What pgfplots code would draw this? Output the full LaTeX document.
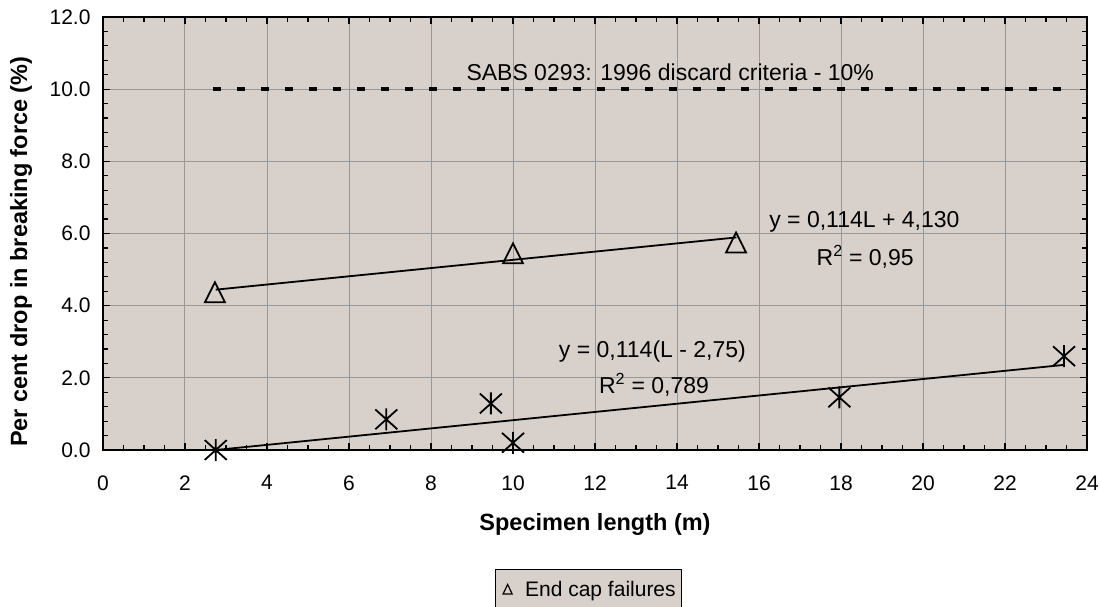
\documentclass[border=0pt]{standalone}
\usepackage{pgfplots}
\pgfplotsset{compat=1.18}
\usepackage{fontspec}
\setmainfont{Liberation Sans}

\definecolor{plotbg}{RGB}{216,208,202}
\definecolor{gridgray}{RGB}{152,152,152}

% open triangle centred on its bounding box
\pgfdeclareplotmark{boxtri}{%
  \pgfpathmoveto{\pgfqpoint{0pt}{\pgfplotmarksize}}%
  \pgfpathlineto{\pgfqpoint{-\pgfplotmarksize}{-\pgfplotmarksize}}%
  \pgfpathlineto{\pgfqpoint{\pgfplotmarksize}{-\pgfplotmarksize}}%
  \pgfpathclose\pgfusepathqstroke}
% star: a cross with a vertical bar through it
\pgfdeclareplotmark{xstar}{%
  \pgfpathmoveto{\pgfqpoint{-\pgfplotmarksize}{-0.9\pgfplotmarksize}}%
  \pgfpathlineto{\pgfqpoint{\pgfplotmarksize}{0.9\pgfplotmarksize}}%
  \pgfpathmoveto{\pgfqpoint{-\pgfplotmarksize}{0.9\pgfplotmarksize}}%
  \pgfpathlineto{\pgfqpoint{\pgfplotmarksize}{-0.9\pgfplotmarksize}}%
  \pgfpathmoveto{\pgfqpoint{0pt}{-\pgfplotmarksize}}%
  \pgfpathlineto{\pgfqpoint{0pt}{\pgfplotmarksize}}%
  \pgfusepathqstroke}

\newcommand{\ticksize}{\fontsize{21bp}{25bp}\selectfont}
\newcommand{\labelsize}{\fontsize{23.5bp}{28bp}\selectfont}
\newcommand{\notesize}{\fontsize{23bp}{27bp}\selectfont}

\begin{document}
\begin{tikzpicture}
\begin{axis}[
  at={(0,0)}, anchor=south west,
  scale only axis, width=984bp, height=433bp,
  xmin=0, xmax=24, ymin=0, ymax=12,
  xtick={0,2,...,24}, ytick={0,2,...,12},
  minor x tick num=3, minor y tick num=4,
  tick align=inside, major tick length=7bp, minor tick length=5bp,
  tick style={black, line width=1.2bp},
  grid=major, major grid style={gridgray, line width=1bp},
  axis line style={black, line width=2.5bp},
  axis background/.style={fill=plotbg},
  clip=false,
  /pgf/number format/assume math mode=true,
  ticklabel style={font=\ticksize},
  yticklabel style={/pgf/number format/fixed, /pgf/number format/fixed zerofill,
    /pgf/number format/precision=1, xshift=-9bp},
  xticklabel style={yshift=-22bp},
  xlabel={Specimen length (m)},
  ylabel={Per cent drop in breaking force (\%)},
  label style={font=\bfseries\labelsize},
  xlabel style={at={(axis description cs:0.5,-0.1848)}, anchor=base},
  ylabel style={at={(axis description cs:-0.0772,0.458)}, anchor=base},
  legend style={at={(0.398,-0.275)}, anchor=north west, fill=plotbg,
    draw=black, line width=1bp, font=\ticksize, inner xsep=4bp, inner ysep=10bp},
  legend cell align=left,
]
% discard limit
\addplot[black, line width=4bp, dash pattern=on 8bp off 16bp, forget plot]
  coordinates {(2.68,10) (23.4,10)};

% trend lines
\addplot[black, line width=1.8bp, forget plot]
  coordinates {(2.75,4.4435) (15.45,5.8913)};
\addplot[black, line width=1.8bp, forget plot]
  coordinates {(2.75,0) (23.45,2.3598)};

% other failures
\addplot[only marks, mark=xstar, mark size=11bp, mark options={black, line width=1.8bp}, forget plot]
  coordinates {(2.75,0) (6.91,0.85) (9.46,1.29) (10.0,0.2) (17.96,1.46) (23.44,2.6)};

% end cap failures
\addplot[only marks, mark=boxtri, mark size=10bp, mark options={black, line width=1.8bp, fill=none},
  legend image code/.code={%
    \path[draw=none, fill=none] (-4bp,0bp) rectangle (20bp,0.1bp);
    \draw[black, line width=1.2bp, fill=none] (0bp,-4bp) -- (9bp,-4bp) -- (4.5bp,5.5bp) -- cycle;}]
  coordinates {(2.73,4.37) (10.0,5.45) (15.44,5.75)};
\addlegendentry{End cap failures\hspace{7bp}}

\node[font=\notesize, anchor=west] at (axis cs:8.78,10.46) {SABS 0293: 1996 discard criteria - 10\%};
\node[font=\notesize] at (axis cs:18.57,6.31) {y = 0,114L + 4,130};
\node[font=\notesize] at (axis cs:18.59,5.34) {R\textsuperscript{2} = 0,95};
\node[font=\notesize] at (axis cs:13.40,2.74) {y = 0,114(L - 2,75)};
\node[font=\notesize] at (axis cs:13.44,1.80) {R\textsuperscript{2} = 0,789};
\end{axis}
\pgfresetboundingbox
\path[use as bounding box] (-103bp,-157bp) rectangle (998bp,450bp);
\end{tikzpicture}
\end{document}
